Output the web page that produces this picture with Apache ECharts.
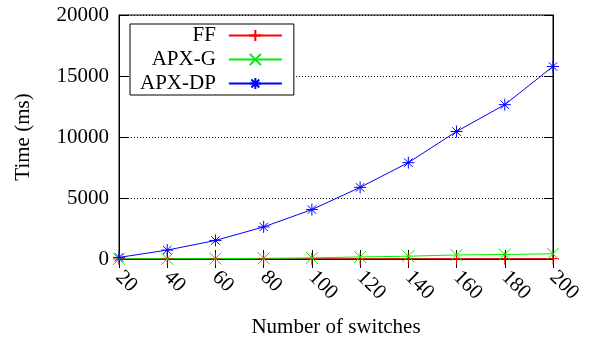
<!DOCTYPE html>
<html>
<head>
<meta charset="utf-8">
<script src="https://cdn.jsdelivr.net/npm/echarts@6/dist/echarts.min.js"></script>
<style>
html,body{margin:0;padding:0;background:#fff;}
#chart{width:602px;height:339px;}
</style>
</head>
<body>
<div id="chart"></div>
<script>
// Data
var switches = [20, 40, 60, 80, 100, 120, 140, 160, 180, 200];
var ffTime = [2, 3, 5, 8, 10, 14, 18, 22, 27, 33];
var apxGTime = [10, 20, 35, 55, 90, 170, 230, 330, 370, 430];
var apxDPTime = [130, 730, 1520, 2630, 4050, 5870, 7900, 10450, 12650, 15780];
var seriesNames = ['FF', 'APX-G', 'APX-DP'];
var yTicks = [0, 5000, 10000, 15000, 20000];

var FONT = '"Liberation Serif", "Times New Roman", serif';
var FS = 21;
var plusPath = 'path://M0,6L12,6M6,0L6,12';
var crossPath = 'path://M0,0L12,12M12,0L0,12';
var starPath = 'path://M0,6L12,6M6,0L6,12M1.8,1.8L10.2,10.2M10.2,1.8L1.8,10.2';

function pairs(ys) { return switches.map(function (x, i) { return [x, ys[i]]; }); }

function mkSeries(name, ys, color, sym) {
  return {
    name: name, type: 'line', data: pairs(ys),
    xAxisIndex: 0, yAxisIndex: 0,
    symbol: sym, symbolSize: 12, showSymbol: true,
    lineStyle: { color: color, width: 1 },
    itemStyle: { color: color, borderColor: color, borderWidth: 1 },
    emphasis: { disabled: true },
    z: 3
  };
}

var chart = echarts.init(document.getElementById('chart'), null, { renderer: 'canvas' });
var option = {
  animation: false,
  backgroundColor: '#fff',
  grid: { left: 119, right: 49, top: 15, bottom: 80, outerBoundsMode: 'none', containLabel: false, show: true, borderColor: '#000', borderWidth: 1, backgroundColor: 'transparent' },
  legend: {
    data: seriesNames,
    orient: 'vertical', left: 130, top: 24, align: 'right',
    itemWidth: 53, itemHeight: 14, itemGap: 3,
    padding: [1, 11, 1, 10],
    borderColor: '#000', borderWidth: 1, backgroundColor: '#fff',
    formatter: function (n) { return '{n|' + n + '}'; },
    textStyle: {
      fontFamily: FONT, fontSize: FS, color: '#000',
      rich: { n: { width: 73, align: 'right', fontFamily: FONT, fontSize: FS, color: '#000', padding: [0, 8, 0, 0] } }
    },
    z: 10
  },
  xAxis: [{
    type: 'value', min: 20, max: 200, interval: 20, position: 'bottom',
    name: 'Number of switches', nameLocation: 'middle', nameGap: 58,
    nameTextStyle: { fontFamily: FONT, fontSize: FS, color: '#000' },
    axisLine: { show: true, lineStyle: { color: '#000', width: 1 } },
    axisTick: { show: true, inside: true, length: 9, lineStyle: { color: '#000' } },
    axisLabel: { rotate: -45, margin: 15, fontFamily: FONT, fontSize: FS, color: '#000' },
    splitLine: { show: false }
  }, {
    type: 'value', min: 20, max: 200, interval: 20, position: 'top',
    axisLine: { show: true, lineStyle: { color: '#000', width: 1 } },
    axisTick: { show: true, inside: true, length: 9, lineStyle: { color: '#000' } },
    axisLabel: { show: false }, splitLine: { show: false }
  }],
  yAxis: [{
    type: 'value', min: yTicks[0], max: yTicks[yTicks.length - 1], interval: 5000, position: 'left',
    name: 'Time (ms)', nameLocation: 'middle', nameGap: 85,
    nameTextStyle: { fontFamily: FONT, fontSize: FS, color: '#000' },
    axisLine: { show: true, lineStyle: { color: '#000', width: 1 } },
    axisTick: { show: true, inside: true, length: 9, lineStyle: { color: '#000' } },
    axisLabel: { margin: 10, fontFamily: FONT, fontSize: FS, color: '#000', formatter: function (v) { return String(v); } },
    splitLine: { show: true, lineStyle: { type: [1, 2], color: '#000', width: 1 } }
  }, {
    type: 'value', min: yTicks[0], max: yTicks[yTicks.length - 1], interval: 5000, position: 'right',
    axisLine: { show: true, lineStyle: { color: '#000', width: 1 } },
    axisTick: { show: true, inside: true, length: 9, lineStyle: { color: '#000' } },
    axisLabel: { show: false }, splitLine: { show: false }
  }],
  series: [
    mkSeries(seriesNames[0], ffTime, '#ff0000', plusPath),
    mkSeries(seriesNames[1], apxGTime, '#00ee00', crossPath),
    mkSeries(seriesNames[2], apxDPTime, '#0000ff', starPath)
  ]
};
chart.setOption(option);
</script>
</body>
</html>
